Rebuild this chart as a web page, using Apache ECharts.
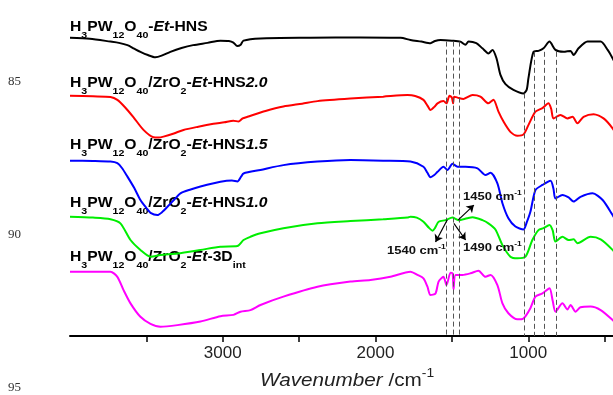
<!DOCTYPE html>
<html>
<head>
<meta charset="utf-8">
<script src="https://cdn.jsdelivr.net/npm/echarts@6/dist/echarts.min.js"></script>
<style>
  html, body { margin: 0; padding: 0; background: #fff; }
  #ftir-chart { width: 613px; height: 395px; }
</style>
</head>
<body>
<div id="ftir-chart"></div>
<script>
// FT-IR spectra, offset vertically (transmittance, arbitrary units)
// each point: [wavenumber cm-1, T]
const hpwHNS = [
  [4000, 93.2], [3870, 92.9], [3735, 92.0], [3680, 91.6], [3624, 90.9], [3580, 89.8],
  [3539, 88.8], [3490, 87.8], [3441, 87.1], [3400, 87.6], [3343, 88.8], [3270, 90.0],
  [3194, 90.9], [3100, 91.6], [3015, 92.3], [2960, 92.2], [2930, 91.7], [2905, 90.6],
  [2885, 90.9], [2864, 92.3], [2753, 93.0], [2426, 93.2], [2100, 93.3], [1836, 93.2],
  [1771, 92.5], [1700, 92.0], [1640, 91.5], [1610, 92.2], [1574, 92.5], [1500, 92.3],
  [1444, 92.0], [1411, 91.0], [1391, 92.0], [1340, 91.5], [1300, 89.9], [1261, 88.3],
  [1234, 89.4], [1208, 86.8], [1182, 81.6], [1149, 78.7], [1097, 76.9], [1031, 75.8],
  [1010, 77.0], [999, 80.5], [966, 88.8], [933, 89.1], [900, 89.9], [861, 92.0],
  [822, 89.4], [769, 88.8], [723, 89.1], [703, 87.8], [671, 89.9], [612, 92.0],
  [526, 92.0], [480, 89.4], [448, 86.8], [420, 84.0],
];
const zrHNS20 = [
  [4000, 75.1], [3850, 74.9], [3735, 74.7], [3690, 73.8], [3640, 71.5], [3585, 68.4],
  [3519, 64.4], [3454, 62.1], [3420, 62.0], [3388, 62.3], [3320, 63.3], [3257, 64.4],
  [3160, 65.4], [3061, 66.3], [2990, 66.8], [2930, 67.3], [2897, 67.0], [2870, 68.0],
  [2838, 68.5], [2720, 70.3], [2603, 71.7], [2480, 72.6], [2380, 73.4], [2164, 74.2],
  [1950, 74.8], [1791, 75.3], [1740, 75.0], [1686, 73.8], [1660, 72.0], [1640, 70.6],
  [1615, 71.6], [1594, 72.7], [1555, 73.4], [1535, 72.7], [1516, 75.1], [1500, 74.5],
  [1492, 72.7], [1485, 74.8], [1463, 74.5], [1424, 74.1], [1365, 75.3], [1313, 74.8],
  [1261, 72.7], [1228, 73.8], [1195, 70.1], [1162, 67.0], [1117, 63.8], [1071, 62.6],
  [1031, 63.0], [999, 65.9], [953, 70.1], [907, 71.2], [868, 72.7], [850, 71.0],
  [835, 68.0], [789, 69.1], [743, 68.0], [710, 68.5], [678, 66.5], [638, 68.5],
  [572, 69.3], [507, 68.0], [448, 64.9], [420, 62.5],
];
const zrHNS15 = [
  [4000, 54.8], [3850, 54.7], [3735, 54.5], [3690, 54.0], [3660, 52.5], [3624, 49.8],
  [3580, 46.3], [3539, 42.5], [3500, 40.0], [3473, 38.5], [3428, 37.8], [3395, 38.8],
  [3362, 40.4], [3320, 42.5], [3277, 44.6], [3210, 45.8], [3146, 46.7], [3015, 48.2],
  [2940, 48.6], [2904, 48.3], [2880, 49.8], [2864, 50.8], [2753, 51.9], [2603, 53.4],
  [2380, 54.5], [2164, 55.0], [1950, 54.8], [1771, 54.5], [1686, 52.9], [1660, 51.0],
  [1640, 49.6], [1615, 50.3], [1594, 51.3], [1555, 52.9], [1529, 51.9], [1496, 53.8],
  [1463, 52.9], [1411, 52.9], [1332, 52.4], [1280, 50.3], [1247, 51.0], [1202, 47.7],
  [1169, 41.5], [1130, 36.8], [1084, 34.2], [1031, 33.3], [1010, 35.5], [986, 38.8],
  [953, 45.6], [907, 47.2], [854, 48.5], [835, 46.0], [822, 43.0], [776, 44.1],
  [736, 43.3], [703, 42.0], [658, 43.5], [579, 44.6], [513, 42.5], [448, 37.8],
  [420, 35.5],
];
const zrHNS10 = [
  [4000, 37.3], [3850, 37.0], [3735, 36.5], [3670, 35.2], [3604, 30.0], [3539, 26.9],
  [3473, 24.8], [3408, 25.3], [3297, 25.8], [3146, 26.9], [3015, 27.9], [2904, 28.1],
  [2864, 30.0], [2819, 31.0], [2753, 32.1], [2603, 33.7], [2380, 35.2], [2164, 35.9],
  [1950, 36.5], [1791, 37.0], [1771, 37.3], [1730, 37.0], [1686, 35.7], [1650, 33.8],
  [1626, 32.9], [1610, 33.8], [1587, 35.7], [1542, 36.2], [1496, 37.0], [1457, 36.2],
  [1400, 36.8], [1365, 37.1], [1300, 36.2], [1261, 35.2], [1215, 33.3], [1169, 28.4],
  [1117, 24.8], [1071, 24.3], [1018, 24.8], [973, 30.0], [933, 33.1], [900, 33.7],
  [861, 34.7], [840, 33.0], [822, 29.5], [776, 31.0], [736, 30.0], [703, 30.2],
  [678, 29.0], [592, 31.0], [526, 30.2], [448, 26.9], [420, 25.0],
];
const zr3Dint = [
  [4000, 20.1], [3850, 20.1], [3735, 20.1], [3690, 18.5], [3650, 14.4], [3604, 10.2],
  [3539, 6.0], [3473, 3.8], [3408, 2.9], [3297, 3.4], [3146, 4.5], [3015, 6.2],
  [2930, 6.6], [2884, 7.6], [2819, 8.1], [2753, 9.7], [2603, 12.3], [2380, 15.4],
  [2164, 17.0], [2033, 17.5], [1902, 18.5], [1771, 20.1], [1725, 19.1], [1686, 18.0],
  [1660, 15.4], [1640, 12.8], [1607, 13.3], [1587, 17.0], [1555, 18.5], [1535, 15.9],
  [1509, 19.8], [1495, 19.5], [1489, 14.6], [1476, 19.1], [1431, 19.1], [1378, 19.6],
  [1326, 20.4], [1280, 18.5], [1247, 19.1], [1202, 15.9], [1169, 10.2], [1130, 7.1],
  [1071, 5.2], [1031, 5.5], [986, 8.7], [953, 12.3], [907, 13.3], [861, 14.9],
  [840, 11.0], [822, 7.6], [776, 10.2], [743, 8.3], [723, 9.7], [690, 7.6],
  [658, 9.0], [592, 9.2], [526, 8.1], [448, 5.0], [420, 3.5],
];

// vertical dashed guide lines (band positions) and where they start
const dashWn = [1540, 1490, 1450, 1024, 958, 893, 817];
const dashTop = [92, 92, 92, 75.8, 88.8, 88.8, 88.8];

// arrows from the green peak to the band labels: [wn0, T0, wn1, T1]
const arrows = [
  [1458, 36.3, 1356, 40.9],
  [1487, 35.2, 1410, 30.0],
  [1530, 36.3, 1607, 29.4],
];

const tickWn = [3500, 3000, 2500, 2000, 1500, 1000, 500];
const labelWn = [3000, 2000, 1000];

const FONT = "'Liberation Sans', Arial, sans-serif";

// rich styles for the sample names (bold, subscripts, italic)
const nameRich = {
  m: { fontSize: 14, fontWeight: "bold", fontFamily: FONT, lineHeight: 16, fill: "#000" },
  i: { fontSize: 14, fontWeight: "bold", fontStyle: "italic", fontFamily: FONT, lineHeight: 16, fill: "#000" },
  s: { fontSize: 9.5, fontWeight: "bold", fontFamily: FONT, lineHeight: 10, padding: [16, 0, 0, 0], fill: "#000" },
};
const hpw = "{m|H}{s|3}{m|PW}{s|12}{m|O}{s|40}";
const sampleNames = [
  hpw + "{m|-}{i|Et}{m|-HNS}",
  hpw + "{m|/ZrO}{s|2}{m|-}{i|Et}{m|-HNS}{i|2.0}",
  hpw + "{m|/ZrO}{s|2}{m|-}{i|Et}{m|-HNS}{i|1.5}",
  hpw + "{m|/ZrO}{s|2}{m|-}{i|Et}{m|-HNS}{i|1.0}",
  hpw + "{m|/ZrO}{s|2}{m|-}{i|Et}{m|-3D}{s|int}",
];
const nameTops = [14, 70, 132, 190, 244];

const bandRich = {
  a: { fontSize: 11.5, fontWeight: "bold", fontFamily: FONT, lineHeight: 13, fill: "#111" },
  p: { fontSize: 7.5, fontWeight: "bold", fontFamily: FONT, lineHeight: 9, padding: [0, 0, 8, 0], fill: "#111" },
};
const bandLabels = [
  { text: "{a|1450 cm}{p|-1}", left: 463, top: 189 },
  { text: "{a|1490 cm}{p|-1}", left: 463, top: 240 },
  { text: "{a|1540 cm}{p|-1}", left: 387, top: 243 },
];

const lineNumbers = [
  { text: "85", top: 75 },
  { text: "90", top: 228 },
  { text: "95", top: 381 },
];

// the scanned lettering is a little wider than the plain font, hence scaleX
const graphics = [];
sampleNames.forEach((t, k) => {
  graphics.push({
    type: "text", left: 70, top: nameTops[k], z: 1, scaleX: 1.12,
    style: { text: t, rich: nameRich, fontFamily: FONT },
  });
});
bandLabels.forEach((b) => {
  graphics.push({
    type: "text", left: b.left, top: b.top, z: 5, scaleX: 1.13,
    style: { text: b.text, rich: bandRich, fontFamily: FONT },
  });
});
lineNumbers.forEach((n) => {
  graphics.push({
    type: "text", left: 8, top: n.top,
    style: { text: n.text, fontFamily: "'Liberation Serif', 'Times New Roman', serif", fontSize: 13, fill: "#333" },
  });
});
// axis title
graphics.push({
  type: "text", left: 260, top: 368, scaleX: 1.15,
  style: {
    text: "{w|Wavenumber}{n| /cm}{p|-1}",
    rich: {
      w: { fontSize: 18, fontStyle: "italic", fontFamily: FONT, lineHeight: 22, fill: "#222" },
      n: { fontSize: 18, fontFamily: FONT, lineHeight: 22, fill: "#222" },
      p: { fontSize: 12, fontFamily: FONT, lineHeight: 14, padding: [0, 0, 14, 0], fill: "#222" },
    },
  },
});

function spectrum(name, data, color, extra) {
  return Object.assign({
    name: name,
    type: "line",
    data: data,
    showSymbol: false,
    symbol: "none",
    smooth: 0.25,
    lineStyle: { color: color, width: 2 },
    itemStyle: { color: color },
    z: 3,
  }, extra || {});
}

const chart = echarts.init(document.getElementById("ftir-chart"));
const option = {
  animation: false,
  backgroundColor: "#fff",
  // the axis runs on past the right edge of the picture (down to 0 cm-1)
  grid: { left: 70, top: 16, width: 611, height: 320, containLabel: false, outerBoundsMode: "none" },
  xAxis: {
    type: "value",
    min: 0,
    max: 4000,
    interval: 500,
    inverse: true,
    axisLine: { show: true, onZero: false, lineStyle: { color: "#000", width: 2 } },
    axisTick: { show: true, length: 6, customValues: tickWn, lineStyle: { color: "#000", width: 1.5 } },
    axisLabel: {
      customValues: labelWn,
      fontSize: 17,
      color: "#222",
      margin: 9,
      fontFamily: FONT,
      formatter: (v) => String(v),
    },
    splitLine: { show: false },
  },
  yAxis: { type: "value", min: 0, max: 100, show: false },
  graphic: graphics,
  series: [
    spectrum("H3PW12O40-Et-HNS", hpwHNS, "#000000", {
      markLine: {
        silent: true,
        symbol: ["none", "none"],
        label: { show: false },
        lineStyle: { color: "#555", width: 1, type: [5, 3] },
        data: dashWn.map((w, i) => [{ coord: [w, dashTop[i]] }, { coord: [w, 0] }]),
      },
    }),
    spectrum("H3PW12O40/ZrO2-Et-HNS2.0", zrHNS20, "#ff0000"),
    spectrum("H3PW12O40/ZrO2-Et-HNS1.5", zrHNS15, "#0000ff"),
    spectrum("H3PW12O40/ZrO2-Et-HNS1.0", zrHNS10, "#00ee00", {
      markLine: {
        silent: true,
        symbol: ["none", "arrow"],
        symbolSize: 7,
        label: { show: false },
        lineStyle: { color: "#000", width: 1.2, type: "solid" },
        data: arrows.map((a) => [{ coord: [a[0], a[1]] }, { coord: [a[2], a[3]] }]),
      },
    }),
    spectrum("H3PW12O40/ZrO2-Et-3Dint", zr3Dint, "#ff00ff"),
  ],
};
chart.setOption(option);
</script>
</body>
</html>
